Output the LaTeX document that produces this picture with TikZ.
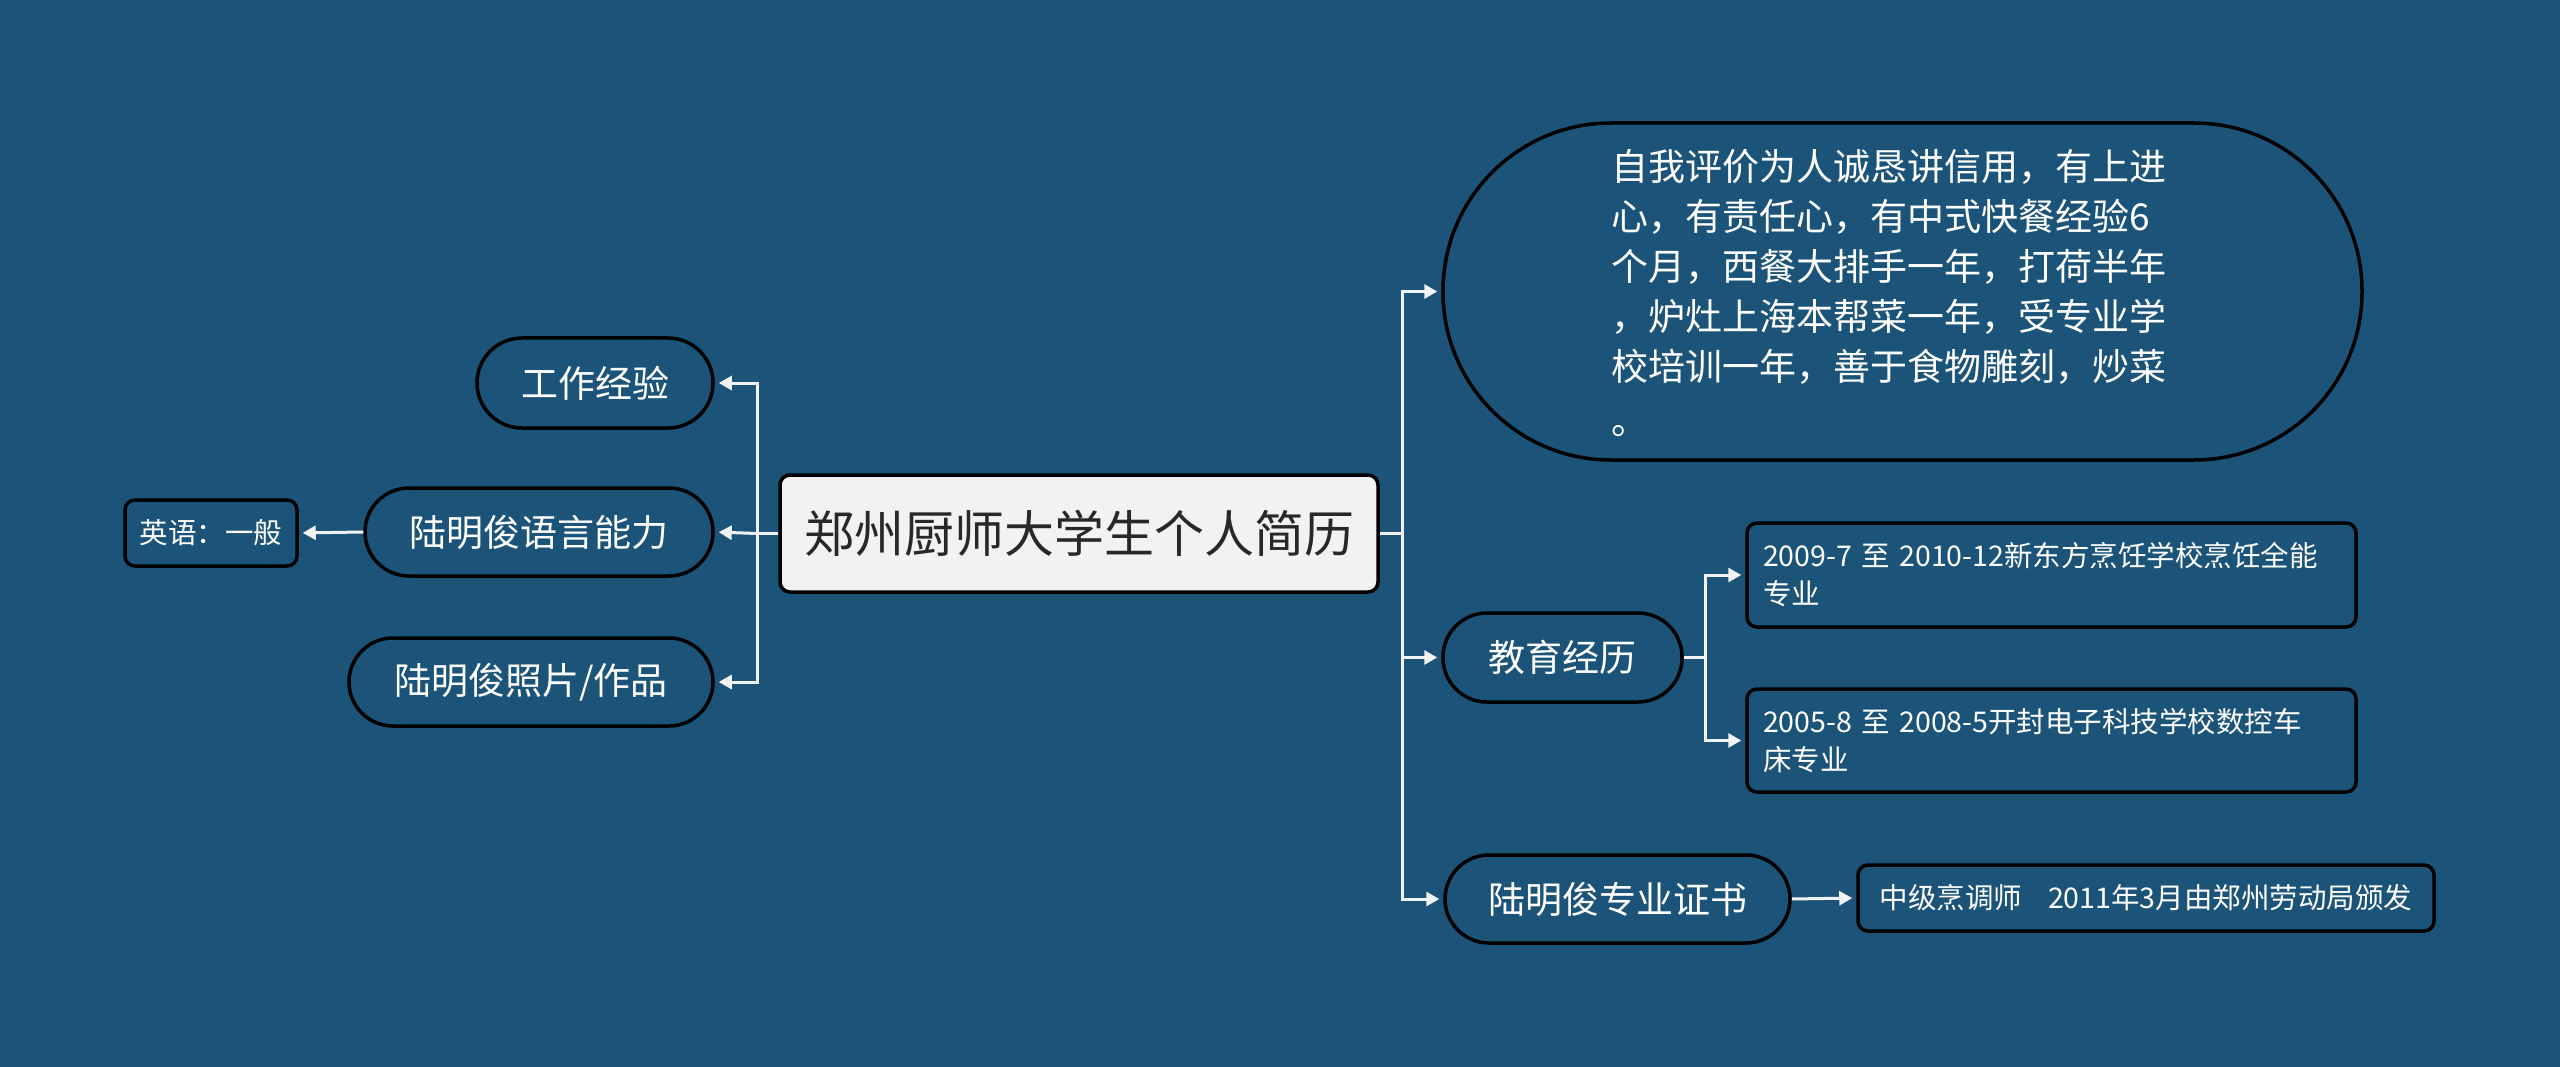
\documentclass[tikz,border=0pt]{standalone}
\usepackage{fontspec}
\setmainfont{Noto Sans CJK SC}
\usetikzlibrary{arrows.meta}
\definecolor{bgblue}{RGB}{27,84,120}
\definecolor{rootfill}{RGB}{242,242,242}
\definecolor{roottext}{RGB}{40,40,40}
\definecolor{linecol}{RGB}{242,242,242}
\begin{document}
\begin{tikzpicture}[x=1pt,y=-1pt,
  base/.style={draw=black,line width=3.5pt,fill=bgblue,text=white,inner sep=0pt,anchor=center},
  pill/.style={base,rounded corners=44pt,font=\fontsize{37}{50}\selectfont},
  leafbox/.style={base,rounded corners=10pt,font=\fontsize{28.5}{38}\selectfont},
  rootbox/.style={draw=black,line width=3.5pt,fill=rootfill,text=roottext,rounded corners=10pt,inner sep=0pt,anchor=center,font=\fontsize{50}{60}\selectfont},
  conn/.style={draw=linecol,line width=3pt},
  arr/.style={conn,-{Triangle[length=13pt,width=14pt]},shorten >=4pt}
]
\fill[bgblue] (0,0) rectangle (2560,1067);
\useasboundingbox (0,0) rectangle (2560,1067);

% nodes
\node[rootbox,minimum width=598pt,minimum height=117pt] (root) at (1079,533.5) {郑州厨师大学生个人简历};

\node[pill,minimum width=236pt,minimum height=90pt,rounded corners=45pt] (work) at (595,383) {工作经验};
\node[pill,minimum width=348pt,minimum height=88pt] (lang) at (539,532) {陆明俊语言能力};
\node[pill,minimum width=364pt,minimum height=88pt] (photo) at (531,682) {陆明俊照片/作品};
\node[leafbox,minimum width=172pt,minimum height=66pt] (eng) at (211,533) {英语：一般};

\node[base,rounded corners=168pt,minimum width=919pt,minimum height=337pt] (self) at (1902.5,291.5) {};
\node[text=white,align=left,inner sep=0pt,font=\fontsize{37}{50}\selectfont] (selftext) at (1889,293)
  {自我评价为人诚恳讲信用，有上进\\心，有责任心，有中式快餐经验6\\个月，西餐大排手一年，打荷半年\\，炉灶上海本帮菜一年，受专业学\\校培训一年，善于食物雕刻，炒菜\\[4pt]。};

\node[pill,minimum width=239pt,minimum height=89pt] (edu) at (1562.5,657.5) {教育经历};
\node[pill,minimum width=345pt,minimum height=88pt] (cert) at (1617.5,899) {陆明俊专业证书};

\node[leafbox,minimum width=609pt,minimum height=104pt,text width=577pt,inner xsep=16pt,align=left] (e1) at (2051.5,575)
  {2009-7 至 2010-12新东方烹饪学校烹饪全能\\专业};
\node[leafbox,minimum width=609pt,minimum height=103pt,text width=577pt,inner xsep=16pt,align=left] (e2) at (2051.5,740.5)
  {2005-8 至 2008-5开封电子科技学校数控车\\床专业};
\node[leafbox,minimum width=576pt,minimum height=66pt] (c1) at (2146,898)
  {中级烹调师\hspace{0.9em}2011年3月由郑州劳动局颁发};

% left connectors
\draw[conn] (root.west) -- ++(-21,0) coordinate (lt);
\draw[arr] (lt) |- (work.east);
\draw[arr] (lt) -- (lang.east);
\draw[arr] (lt) |- (photo.east);
\draw[arr] (lang.west) -- (eng.east);

% right connectors
\draw[conn] (root.east) -- ++(23,0) coordinate (rt);
\draw[arr] (rt) |- (self.west);
\draw[arr] (rt) |- (edu.west);
\draw[arr] (rt) |- (cert.west);
\draw[conn] (edu.east) -- ++(22,0) coordinate (et);
\draw[arr] (et) |- (e1.west);
\draw[arr] (et) |- (e2.west);
\draw[arr] (cert.east) -- (c1.west);
\end{tikzpicture}
\end{document}
